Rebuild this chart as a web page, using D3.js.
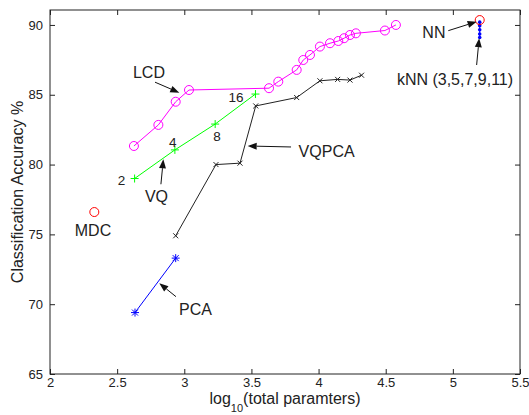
<!DOCTYPE html>
<html>
<head>
<meta charset="utf-8">
<script src="https://cdn.jsdelivr.net/npm/d3@7/dist/d3.min.js"></script>
<style>
  body { margin: 0; background: #fff; }
  text { font-family: "Liberation Sans", Arial, sans-serif; fill: #222; }
</style>
</head>
<body>
<svg class="chart"></svg>
<script>
// data (x = log10 of total parameters, y = accuracy %)
var lcdX = [2.625, 2.807, 2.936, 3.035, 3.631, 3.70, 3.837, 3.886, 3.936, 4.01, 4.085, 4.147, 4.19, 4.234, 4.278, 4.494, 4.576];
var lcdY = [81.33, 82.84, 84.5, 85.34, 85.47, 85.94, 86.78, 87.49, 87.85, 88.45, 88.69, 88.85, 89.05, 89.28, 89.4, 89.6, 90.0];

var vqX = [2.63, 2.93, 3.23, 3.53];
var vqY = [79.0, 81.05, 82.9, 85.05];
var vqSizes = ['2', '4', '8', '16'];

var vqpcaX = [2.936, 3.236, 3.415, 3.532, 3.837, 4.01, 4.142, 4.234, 4.32];
var vqpcaY = [74.9, 80.0, 80.1, 84.2, 84.8, 86.0, 86.1, 86.05, 86.4];

var pcaX = [2.633, 2.936];
var pcaY = [69.4, 73.3];

var mdcX = [2.33];
var mdcY = [76.6];

var nnX = [5.2];
var nnY = [90.35];

var knnX = [5.2, 5.2, 5.2, 5.2, 5.2];
var knnY = [90.2, 89.95, 89.65, 89.35, 89.1];

var xTickValues = [2, 2.5, 3, 3.5, 4, 4.5, 5, 5.5];
var yTickValues = [65, 70, 75, 80, 85, 90];

// annotation labels: [text, x, y]
var labels = [
  ['LCD', 2.737, 86.2],
  ['VQ', 2.793, 77.32],
  ['VQPCA', 4.06, 80.54],
  ['MDC', 2.32, 74.89],
  ['PCA', 3.083, 69.23],
  ['NN', 4.859, 89.07],
  ['kNN (3,5,7,9,11)', 5.016, 85.7]
];
var sizeLabelPos = [[2.532, 78.54], [2.914, 81.24], [3.243, 81.66], [3.385, 84.48]];

// arrows: [x1, y1, x2 (head), y2 (head)]
var arrows = [
  [2.782, 85.9, 2.963, 85.15],
  [2.826, 78.59, 2.844, 80.38],
  [3.795, 81.26, 3.472, 81.33],
  [2.938, 70.54, 2.814, 71.5],
  [4.966, 89.59, 5.177, 90.23],
  [5.177, 87.13, 5.196, 89.05]
];

// chart
var width = 529;
var height = 415;
var margin = {left: 50, right: 9, top: 10, bottom: 41};

var chart = d3.select('.chart')
    .attr('width', width)
    .attr('height', height)

var x = d3.scaleLinear()
    .domain([2, 5.5])
    .range([margin.left, width - margin.right])

var y = d3.scaleLinear()
    .domain([65, 91.07])
    .range([height - margin.bottom, margin.top])

function pts(xs, ys) {
  return xs.map(function(v, i) { return [v, ys[i]]; });
}

var line = d3.line()
    .x(function(d) { return x(d[0]); })
    .y(function(d) { return y(d[1]); })

// box
chart.append('rect')
    .attr('x', x(2))
    .attr('y', y(91.07))
    .attr('width', x(5.5) - x(2))
    .attr('height', y(65) - y(91.07))
    .attr('fill', 'none')
    .attr('stroke', '#222')
    .attr('stroke-width', 1)

// axes, ticks pointing inward
var xAxis = d3.axisBottom(x).tickValues(xTickValues).tickSizeInner(-5).tickSizeOuter(0).tickPadding(4)
    .tickFormat(d3.format('~g'))
var yAxis = d3.axisLeft(y).tickValues(yTickValues).tickSizeInner(-5).tickSizeOuter(0).tickPadding(7)

var gx = chart.append('g')
    .attr('transform', 'translate(0,' + y(65) + ')')
    .call(xAxis)
var gy = chart.append('g')
    .attr('transform', 'translate(' + x(2) + ',0)')
    .call(yAxis)
chart.append('g')
    .attr('transform', 'translate(0,' + y(91.07) + ')')
    .call(d3.axisTop(x).tickValues(xTickValues).tickSizeInner(-5).tickSizeOuter(0).tickFormat(''))
chart.append('g')
    .attr('transform', 'translate(' + x(5.5) + ',0)')
    .call(d3.axisRight(y).tickValues(yTickValues).tickSizeInner(-5).tickSizeOuter(0).tickFormat(''))

chart.selectAll('.domain').attr('stroke', 'none')
chart.selectAll('.tick line').attr('stroke', '#222')
gx.selectAll('text').style('font-size', '13px').attr('fill', '#222')
gy.selectAll('text').style('font-size', '13px').attr('fill', '#222')

// series lines
function drawLine(data, color) {
  chart.append('path')
      .datum(data)
      .attr('d', line)
      .attr('fill', 'none')
      .attr('stroke', color)
      .attr('stroke-width', 1)
}
drawLine(pts(lcdX, lcdY), '#ff00ff')
drawLine(pts(vqX, vqY), '#00ff00')
drawLine(pts(vqpcaX, vqpcaY), '#222')
drawLine(pts(pcaX, pcaY), '#0000ff')
drawLine(pts(knnX, knnY), '#0000ff')

// markers
chart.selectAll('.lcd')
    .data(pts(lcdX, lcdY))
  .enter().append('circle')
    .attr('cx', function(d) { return x(d[0]); })
    .attr('cy', function(d) { return y(d[1]); })
    .attr('r', 4.5)
    .attr('fill', 'none')
    .attr('stroke', '#ff00ff')

function cross(data, color, s, diag) {
  chart.selectAll(null)
      .data(data)
    .enter().append('path')
      .attr('d', function(d) {
        var cx = x(d[0]), cy = y(d[1]);
        if (diag) {
          return 'M' + (cx - s) + ',' + (cy - s) + 'L' + (cx + s) + ',' + (cy + s) +
                 'M' + (cx - s) + ',' + (cy + s) + 'L' + (cx + s) + ',' + (cy - s);
        }
        return 'M' + (cx - s) + ',' + cy + 'L' + (cx + s) + ',' + cy +
               'M' + cx + ',' + (cy - s) + 'L' + cx + ',' + (cy + s);
      })
      .attr('stroke', color)
      .attr('stroke-width', 1)
}
cross(pts(vqX, vqY), '#00ff00', 4, false)
cross(pts(vqpcaX, vqpcaY), '#222', 2.5, true)
// stars for PCA
cross(pts(pcaX, pcaY), '#0000ff', 4, false)
cross(pts(pcaX, pcaY), '#0000ff', 3, true)

chart.selectAll('.knn')
    .data(pts(knnX, knnY))
  .enter().append('circle')
    .attr('cx', function(d) { return x(d[0]); })
    .attr('cy', function(d) { return y(d[1]); })
    .attr('r', 1.8)
    .attr('fill', '#0000ff')

chart.selectAll('.mdc')
    .data(pts(mdcX, mdcY).concat(pts(nnX, nnY)))
  .enter().append('circle')
    .attr('cx', function(d) { return x(d[0]); })
    .attr('cy', function(d) { return y(d[1]); })
    .attr('r', 4.5)
    .attr('fill', 'none')
    .attr('stroke', '#ff0000')

// codebook size labels
chart.selectAll('.size')
    .data(vqSizes)
  .enter().append('text')
    .attr('x', function(d, i) { return x(sizeLabelPos[i][0]); })
    .attr('y', function(d, i) { return y(sizeLabelPos[i][1]); })
    .attr('text-anchor', 'middle')
    .style('font-size', '13.5px')
    .text(function(d) { return d; })

// annotations
chart.selectAll('.label')
    .data(labels)
  .enter().append('text')
    .attr('x', function(d) { return x(d[1]); })
    .attr('y', function(d) { return y(d[2]); })
    .attr('text-anchor', 'middle')
    .style('font-size', '16px')
    .text(function(d) { return d[0]; })

chart.selectAll('.arrow')
    .data(arrows)
  .enter().append('g')
    .each(function(d) {
      var x1 = x(d[0]), y1 = y(d[1]), x2 = x(d[2]), y2 = y(d[3]);
      var a = Math.atan2(y2 - y1, x2 - x1);
      var L = 9, W = 3.5;
      var bx = x2 - L * Math.cos(a), by = y2 - L * Math.sin(a);
      var g = d3.select(this);
      g.append('line')
          .attr('x1', x1).attr('y1', y1).attr('x2', bx).attr('y2', by)
          .attr('stroke', '#111')
      g.append('path')
          .attr('d', 'M' + x2 + ',' + y2 +
                'L' + (bx + W * Math.sin(a)) + ',' + (by - W * Math.cos(a)) +
                'L' + (bx - W * Math.sin(a)) + ',' + (by + W * Math.cos(a)) + 'Z')
          .attr('fill', '#111')
    })

// axes labels
var xl = chart.append('text')
    .attr('x', (x(2) + x(5.5)) / 2)
    .attr('y', 404)
    .attr('text-anchor', 'middle')
    .style('font-size', '16px')
xl.append('tspan').text('log')
xl.append('tspan').attr('dy', 8).style('font-size', '11px').text('10')
xl.append('tspan').attr('dy', -8).text('(total paramters)')

chart.append('text')
    .attr('transform', 'translate(23,' + ((y(65) + y(91.07)) / 2) + ') rotate(-90)')
    .attr('text-anchor', 'middle')
    .style('font-size', '16px')
    .text('Classification Accuracy %')
</script>
</body>
</html>
